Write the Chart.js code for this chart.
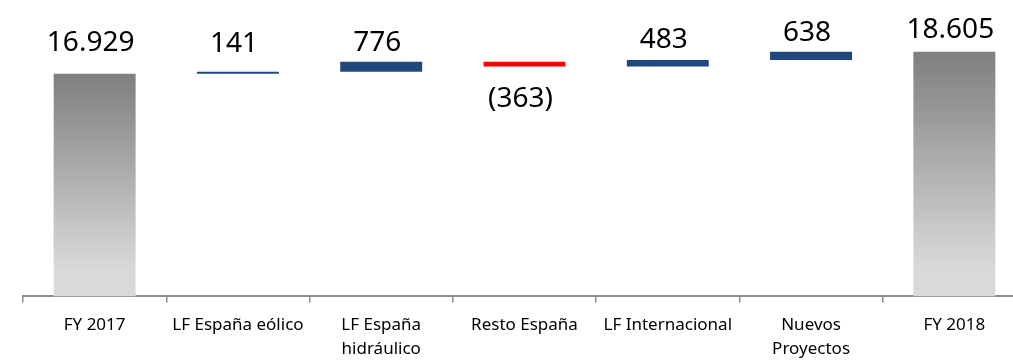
<!DOCTYPE html>
<html lang="es">
<head>
<meta charset="UTF-8">
<title>Producción FY 2017 - FY 2018</title>
<script src="https://cdn.jsdelivr.net/npm/chart.js"></script>
<style>
    html, body { margin: 0; padding: 0; background: #fff; overflow: hidden; }
    #wrap { width: 1013px; height: 360px; overflow: hidden; }
</style>
</head>
<body>
<div id="wrap">
    <canvas id="bridge" width="1030" height="372"></canvas>
</div>
<script>
// categorias y valores del puente
const categories = [
    "FY 2017",
    "LF España eólico",
    ["LF España", "hidráulico"],
    "Resto España",
    "LF Internacional",
    ["Nuevos", "Proyectos"],
    "FY 2018"
];
const values = [16929, 141, 776, -363, 483, 638, 18605];
const isTotal = [true, false, false, false, false, false, true];

// rangos flotantes: los totales parten de cero, las variaciones del acumulado
let running = 0;
const ranges = values.map((v, i) => {
    if (isTotal[i]) { running = v; return [0, v]; }
    const r = [running, running + v];
    running += v;
    return r;
});

function fmt(v) {
    const s = Math.abs(v).toString().replace(/\B(?=(\d{3})+(?!\d))/g, ".");
    return v < 0 ? "(" + s + ")" : s;
}

function barColor(ctx) {
    const i = ctx.dataIndex;
    if (!isTotal[i]) return values[i] < 0 ? "#ff0000" : "#1f497d";
    const chart = ctx.chart;
    if (!chart.chartArea) return "#999";
    const y = chart.scales.y;
    const top = y.getPixelForValue(values[i]);
    const bottom = y.getPixelForValue(0);
    const g = chart.ctx.createLinearGradient(0, top, 0, bottom);
    g.addColorStop(0, "#7f7f7f");
    g.addColorStop(0.88, "#d9d9d9");
    g.addColorStop(1, "#d9d9d9");
    return g;
}

// etiquetas de valor sobre (o bajo) cada barra
const valueLabels = {
    id: "valueLabels",
    afterDatasetsDraw(chart, args, opts) {
        const c = chart.ctx;
        const meta = chart.getDatasetMeta(0);
        c.save();
        c.font = "28px 'Noto Sans'";
        c.fillStyle = "#000";
        c.textAlign = "center";
        c.textBaseline = "alphabetic";
        meta.data.forEach((bar, i) => {
            const top = Math.min(bar.y, bar.base);
            const bottom = Math.max(bar.y, bar.base);
            const gap = opts.gaps[i];
            const y = values[i] < 0 ? bottom + gap : top - gap;
            c.fillText(fmt(values[i]), bar.x - 4, y);
        });
        c.restore();
    }
};

new Chart(document.getElementById("bridge"), {
    type: "bar",
    data: {
        labels: categories,
        datasets: [{
            data: ranges,
            backgroundColor: barColor,
            borderSkipped: false,
            barPercentage: 0.572,
            categoryPercentage: 1
        }]
    },
    options: {
        responsive: false,
        devicePixelRatio: 1,
        animation: false,
        layout: { padding: { left: 23, right: 4, top: 7, bottom: 0 } },
        plugins: {
            legend: { display: false },
            tooltip: { enabled: false },
            valueLabels: { gaps: [23, 20, 11, 41, 12, 11, 14] }
        },
        scales: {
            y: { display: false, min: 0, max: 22000 },
            x: {
                grid: {
                    offset: true,
                    drawOnChartArea: false,
                    drawTicks: true,
                    tickLength: 6,
                    color: "#8c8c8c",
                    lineWidth: 1.5
                },
                border: { color: "#8c8c8c", width: 2 },
                ticks: {
                    color: "#000",
                    padding: 11,
                    maxRotation: 0,
                    autoSkip: false,
                    font: { family: "'Noto Sans'", size: 17, lineHeight: 1.4 }
                }
            }
        }
    },
    plugins: [valueLabels]
});
</script>
</body>
</html>
